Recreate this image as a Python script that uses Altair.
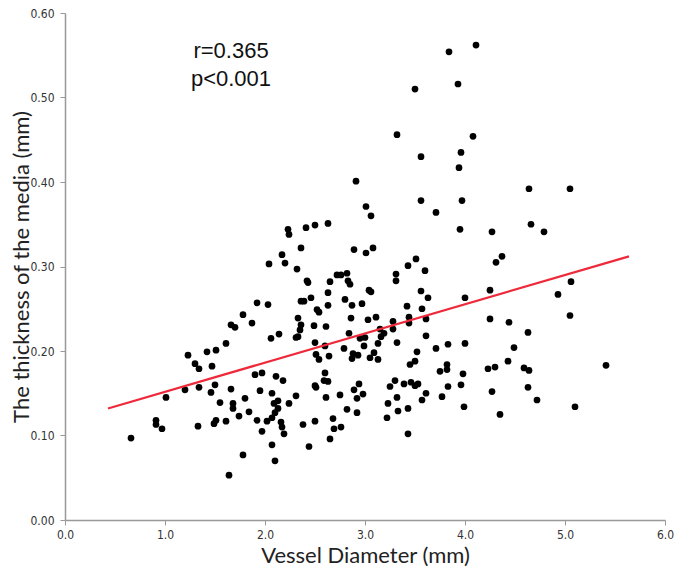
import altair as alt
import pandas as pd

pts = [
    (3.84,0.554),(4.11,0.562),(3.50,0.510),(3.93,0.516),(3.32,0.456),(4.08,0.454),(3.96,0.435),
    (1.78,0.243),
    (3.56,0.430),(2.91,0.401),(3.56,0.378),(3.01,0.371),(3.06,0.360),(3.71,0.364),(2.63,0.351),(2.50,0.349),
    (2.41,0.346),(2.23,0.344),(2.24,0.338),(2.36,0.322),(2.89,0.320),(3.08,0.322),(3.01,0.316),(2.17,0.314),
    (2.04,0.303),(2.20,0.304),(2.32,0.297),(3.51,0.309),(3.43,0.301),(3.60,0.295),(3.31,0.291),(3.31,0.283),
    (2.72,0.290),(2.76,0.290),(2.82,0.292),(2.83,0.283),(2.85,0.279),(2.42,0.283),(2.43,0.281),(2.65,0.282),
    (3.04,0.272),(3.06,0.270),(3.56,0.271),(3.63,0.263),(2.63,0.269),(2.46,0.263),(2.36,0.259),(2.39,0.259),
    (2.80,0.261),(2.87,0.254),(2.97,0.256),(3.42,0.253),(3.57,0.250),(2.63,0.254),(2.52,0.249),(2.54,0.246),
    (1.92,0.257),(2.03,0.255),(2.33,0.239),(2.86,0.239),(3.11,0.240),(3.03,0.237),(3.28,0.235),(3.44,0.240),
    (3.61,0.238),
    (3.94,0.417),(4.64,0.392),(5.05,0.392),(3.97,0.378),(3.95,0.344),(4.27,0.341),(4.66,0.350),(4.79,0.341),
    (4.37,0.312),(4.31,0.305),(5.06,0.282),(4.25,0.272),(4.93,0.267),(4.00,0.263),(4.25,0.238),(5.05,0.242),
    (1.66,0.231),(1.70,0.228),(1.61,0.209),(1.42,0.199),(1.51,0.201),(1.23,0.195),(1.30,0.185),(1.34,0.179),
    (1.47,0.182),(1.20,0.154),(1.34,0.157),(1.50,0.160),(1.46,0.151),(1.66,0.155),(1.01,0.145),(1.55,0.139),
    (1.68,0.138),(1.68,0.132),(1.80,0.144),(1.74,0.123),(0.91,0.118),(0.91,0.113),(0.97,0.108),(1.33,0.111),
    (1.51,0.118),(1.49,0.114),(1.61,0.117),(0.66,0.097),(1.78,0.077),(1.64,0.053),
    (1.87,0.233),(2.36,0.231),(2.49,0.230),(2.61,0.229),(2.35,0.225),(2.33,0.217),(2.31,0.216),(2.06,0.215),
    (2.14,0.220),(2.84,0.221),(2.95,0.215),(3.00,0.216),(3.15,0.226),(3.19,0.221),(3.16,0.217),(3.28,0.226),
    (3.44,0.233),(3.61,0.218),(2.50,0.210),(2.60,0.206),(2.79,0.203),(2.99,0.206),(3.13,0.209),(3.32,0.210),
    (2.51,0.196),(2.64,0.194),(2.54,0.190),(2.88,0.197),(2.93,0.195),(2.87,0.191),(3.05,0.192),(3.09,0.198),
    (3.13,0.190),(3.52,0.199),(3.45,0.184),(3.50,0.188),(3.71,0.203),(1.90,0.172),(1.97,0.174),(2.11,0.170),
    (2.18,0.165),(2.60,0.174),(2.59,0.165),(2.63,0.164),(2.50,0.159),(2.51,0.157),(2.94,0.161),(2.89,0.154),
    (2.98,0.149),(2.92,0.144),(2.75,0.148),(2.61,0.145),(2.31,0.147),(2.24,0.138),(2.07,0.150),(1.95,0.153),
    (2.13,0.141),(2.09,0.138),(2.13,0.132),(2.10,0.127),(2.07,0.121),(1.84,0.128),(1.92,0.118),(2.02,0.117),
    (1.97,0.105),(2.16,0.116),(2.17,0.110),(2.19,0.102),(2.38,0.113),(2.50,0.117),(2.68,0.120),(2.69,0.108),
    (2.76,0.110),(2.82,0.131),(2.92,0.127),(2.65,0.096),(2.44,0.087),(2.07,0.089),(2.10,0.070),(3.25,0.158),
    (3.30,0.165),(3.39,0.161),(3.46,0.163),(3.50,0.159),(3.53,0.161),(3.61,0.150),(3.57,0.142),(3.32,0.145),
    (3.23,0.138),(3.33,0.129),(3.43,0.132),(3.22,0.121),(3.43,0.102),
    (4.44,0.234),(4.63,0.222),(3.83,0.208),(4.00,0.209),(4.49,0.204),(3.82,0.184),(3.82,0.178),(3.75,0.176),
    (3.98,0.173),(4.23,0.179),(4.30,0.181),(4.43,0.188),(4.59,0.180),(4.64,0.177),(5.41,0.183),(3.83,0.158),
    (3.96,0.160),(3.77,0.146),(4.27,0.152),(4.63,0.157),(4.72,0.142),(3.99,0.134),(4.35,0.125),(5.10,0.134),
]
diameter = [p[0] for p in pts]
thickness = [p[1] for p in pts]

line_x = [0.43, 5.64]
line_y = [0.132, 0.312]

note_text = ["r=0.365", "p<0.001"]
note_x = [1.66, 1.66]
note_y = [0.555, 0.522]

x_ticks = [0, 1, 2, 3, 4, 5, 6]
y_ticks = [0.0, 0.1, 0.2, 0.3, 0.4, 0.5, 0.6]

df = pd.DataFrame({"d": diameter, "t": thickness})
dl = pd.DataFrame({"d": line_x, "t": line_y})
dn = pd.DataFrame({"d": note_x, "t": note_y, "txt": note_text})

NARROW = "Liberation Sans Narrow, DejaVu Sans Condensed, sans-serif"
W, H = 600, 507

xs = alt.Scale(domain=[0, 6], nice=False, zero=False)
ys = alt.Scale(domain=[0, 0.6], nice=False)

xax = alt.Axis(values=x_ticks, format=".1f", title="Vessel Diameter (mm)", grid=False,
               labelFont=NARROW, labelFontSize=12, labelColor="#333", labelPadding=4,
               labelFlush=False,
               domainColor="#999", tickColor="#999", tickSize=5, domainWidth=1.5,
               titleFont="Lato", titleFontSize=22, titleFontWeight="normal", titleColor="#222",
               titleX=W / 2, titleY=35, titleBaseline="middle", titleAlign="center")
yax = alt.Axis(values=y_ticks, format=".2f", title="The thickness of the media (mm)", grid=False,
               labelFont=NARROW, labelFontSize=12, labelColor="#333", labelPadding=6,
               labelFlush=False,
               domainColor="#999", tickColor="#999", tickSize=5, domainWidth=1.5,
               titleFont="Lato", titleFontSize=22, titleFontWeight="normal", titleColor="#222",
               titleX=-44, titleY=H / 2, titleBaseline="middle", titleAlign="center", titleAngle=270)

pts_chart = alt.Chart(df).mark_circle(size=45, color="black", opacity=1).encode(
    x=alt.X("d:Q", scale=xs, axis=xax),
    y=alt.Y("t:Q", scale=ys, axis=yax),
)
line_chart = alt.Chart(dl).mark_line(color="#ee2a3a", strokeWidth=2.2).encode(
    x=alt.X("d:Q", scale=xs),
    y=alt.Y("t:Q", scale=ys),
)
note_chart = alt.Chart(dn).mark_text(font="Liberation Sans", fontSize=22, color="#111").encode(
    x=alt.X("d:Q", scale=xs),
    y=alt.Y("t:Q", scale=ys),
    text="txt:N",
)

chart = alt.layer(pts_chart, line_chart, note_chart).properties(
    width=W, height=H,
    padding={"left": 57, "top": 5, "right": 10, "bottom": 47},
    autosize=alt.AutoSizeParams(type="none"),
).configure_view(strokeWidth=0)

chart.save("out.html", embed_options={"renderer": "svg", "actions": False})
